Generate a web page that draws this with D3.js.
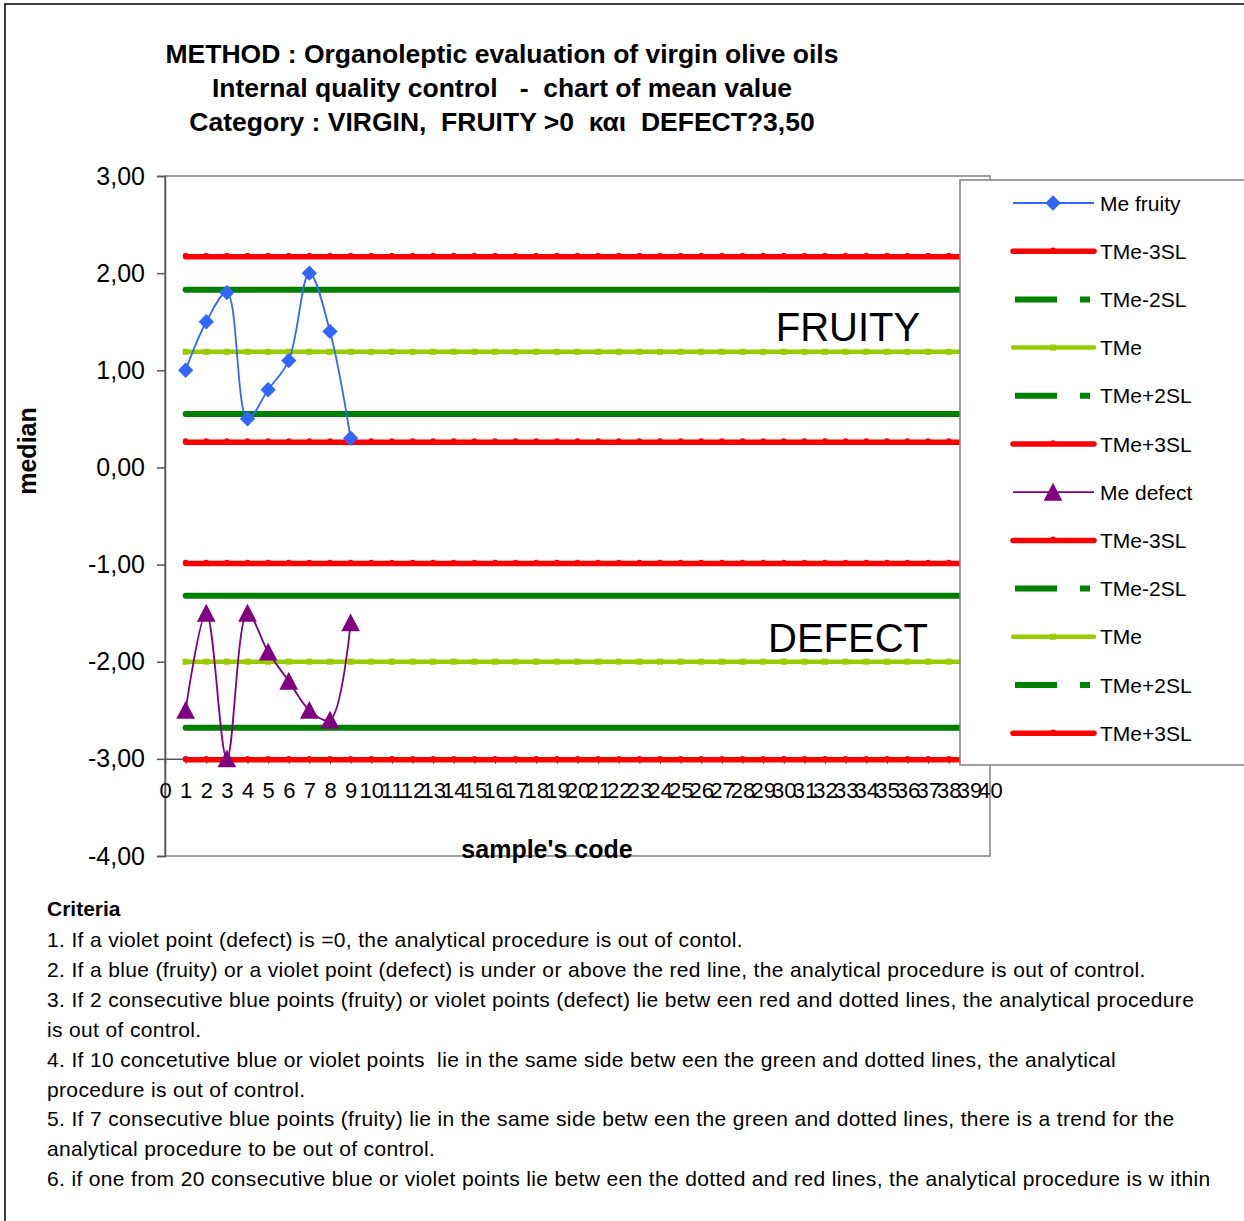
<!DOCTYPE html>
<html><head><meta charset="utf-8">
<script src="https://cdn.jsdelivr.net/npm/d3@7"></script>
<style>body{margin:0;background:#fff}svg{display:block}text{font-family:"Liberation Sans",Arial,sans-serif}</style>
</head><body>
<script>
const titleLines = ["METHOD : Organoleptic evaluation of virgin olive oils",
  "Internal quality control   -  chart of mean value",
  "Category : VIRGIN,  FRUITY >0  και  DEFECT?3,50"];
const sampleCodes = [1,2,3,4,5,6,7,8,9];
const meFruity = [1.0,1.5,1.8,0.5,0.8,1.1,2.0,1.4,0.3];
const meDefect = [-2.5,-1.5,-3.0,-1.5,-1.9,-2.2,-2.5,-2.6,-1.6];
const limitNames = ["TMe-3SL","TMe-2SL","TMe","TMe+2SL","TMe+3SL"];
const fruityLimits = [2.17,1.83,1.19,0.55,0.26];
const defectLimits = [-0.99,-1.32,-2.00,-2.68,-3.01];
const limitX = d3.range(1,41);
const yTicks = [3,2,1,0,-1,-2,-3,-4];
const yTickLabels = ["3,00","2,00","1,00","0,00","-1,00","-2,00","-3,00","-4,00"];
const xTicks = d3.range(0,41);
const legendLabels = ["Me fruity","TMe-3SL","TMe-2SL","TMe","TMe+2SL","TMe+3SL","Me defect","TMe-3SL","TMe-2SL","TMe","TMe+2SL","TMe+3SL"];
const criteria = [
 "1. If a violet point (defect) is =0, the analytical procedure is out of contol.",
 "2. If a blue (fruity) or a violet point (defect) is under or above the red line, the analytical procedure is out of control.",
 "3. If 2 consecutive blue points (fruity) or violet points (defect) lie betw een red and dotted lines, the analytical procedure",
 "is out of control.",
 "4. If 10 concetutive blue or violet points  lie in the same side betw een the green and dotted lines, the analytical",
 "procedure is out of control.",
 "5. If 7 consecutive blue points (fruity) lie in the same side betw een the green and dotted lines, there is a trend for the",
 "analytical procedure to be out of control.",
 "6. if one from 20 consecutive blue or violet points lie betw een the dotted and red lines, the analytical procedure is w ithin"];

const limitStyles = [
  {color:"#FF0000", w:5.5, marker:"dot"},
  {color:"#008000", w:6, marker:"none"},
  {color:"#99CC00", w:4.5, marker:"square"},
  {color:"#008000", w:6, marker:"none"},
  {color:"#FF0000", w:5.5, marker:"dot"}];

const W=1244,H=1221;
const svg=d3.select("body").append("svg").attr("width",W).attr("height",H);
svg.append("path").attr("d","M5,1221 V4 H1244").attr("fill","none").attr("stroke","#000").attr("stroke-width",1.5);

const L=165,R=990,T=176,B=856;
const x=d3.scaleLinear().domain([0,40]).range([L,R]);
const y=d3.scaleLinear().domain([-4,3]).range([B,T]);

svg.append("rect").attr("x",L).attr("y",T).attr("width",R-L).attr("height",B-T).attr("fill","none").attr("stroke","#808080").attr("stroke-width",1.5);

const yAxis=svg.append("g").attr("transform",`translate(${L},0)`)
  .call(d3.axisLeft(y).tickValues(yTicks).tickSize(8).tickPadding(12).tickFormat((d,i)=>yTickLabels[i]));
yAxis.select(".domain").attr("stroke","#555").attr("stroke-width",1.5);
yAxis.selectAll(".tick line").attr("stroke","#555").attr("stroke-width",1.5);
yAxis.selectAll("text").attr("font-size",25).attr("fill","#000").attr("font-family","Liberation Sans, Arial, sans-serif");

const xAxis=svg.append("g").attr("transform",`translate(0,${y(-3)})`)
  .call(d3.axisBottom(x).tickValues(xTicks).tickSize(5).tickPadding(19).tickFormat(d=>String(d)));
xAxis.select(".domain").attr("stroke","#555").attr("stroke-width",1.5);
xAxis.selectAll(".tick line").attr("stroke","#555");
xAxis.selectAll("text").attr("font-size",22).attr("fill","#000").attr("font-family","Liberation Sans Narrow, Arial Narrow, sans-serif");

const lineStraight=d3.line().x(d=>x(d[0])).y(d=>y(d[1]));
function drawLimit(v,st){
  const pts=limitX.map(k=>[k,v]);
  svg.append("path").attr("d",lineStraight(pts)).attr("fill","none").attr("stroke",st.color).attr("stroke-width",st.w).attr("stroke-linecap","round");
  if(st.marker==="dot"){
    svg.append("g").selectAll("circle").data(pts).join("circle").attr("cx",d=>x(d[0])).attr("cy",d=>y(d[1])-1).attr("r",2.8).attr("fill",st.color);
  } else if(st.marker==="square"){
    svg.append("g").selectAll("rect").data(pts).join("rect").attr("x",d=>x(d[0])-3).attr("y",d=>y(d[1])-3).attr("width",6).attr("height",6).attr("fill",st.color);
  }
}
fruityLimits.forEach((v,i)=>drawLimit(v,limitStyles[i]));
defectLimits.forEach((v,i)=>drawLimit(v,limitStyles[i]));

const smooth=d3.line().x(d=>x(d[0])).y(d=>y(d[1])).curve(d3.curveCatmullRom.alpha(0.5));
const fr=sampleCodes.map((c,i)=>[c,meFruity[i]]);
const df=sampleCodes.map((c,i)=>[c,meDefect[i]]);
svg.append("path").attr("d",smooth(fr)).attr("fill","none").attr("stroke","#3366FF").attr("stroke-width",1.8);
svg.append("g").selectAll("path").data(fr).join("path")
  .attr("d",d3.symbol(d3.symbolDiamond2,150)()).attr("transform",d=>`translate(${x(d[0])},${y(d[1])})`).attr("fill","#3366FF");
svg.append("path").attr("d",smooth(df)).attr("fill","none").attr("stroke","#800080").attr("stroke-width",1.8);
const tri=s=>`M0,${-s*0.55}L${s*0.55},${s*0.5}L${-s*0.55},${s*0.5}Z`;
svg.append("g").selectAll("path").data(df).join("path")
  .attr("d",tri(17)).attr("transform",d=>`translate(${x(d[0])},${y(d[1])})`).attr("fill","#800080");

svg.append("text").attr("x",848).attr("y",341).attr("text-anchor","middle").attr("font-size",40).text("FRUITY");
svg.append("text").attr("x",848).attr("y",652).attr("text-anchor","middle").attr("font-size",40).text("DEFECT");

svg.append("text").attr("transform","translate(36,451) rotate(-90)").attr("text-anchor","middle").attr("font-size",25).attr("font-weight","bold").text("median");
svg.append("text").attr("x",547).attr("y",858).attr("text-anchor","middle").attr("font-size",25).attr("font-weight","bold").text("sample's code");

titleLines.forEach((t,i)=>svg.append("text").attr("x",502).attr("y",63+i*34).attr("text-anchor","middle").attr("font-size",26.5).attr("font-weight","bold").style("white-space","pre").text(t));

const lg=svg.append("g");
lg.append("rect").attr("x",960).attr("y",180).attr("width",300).attr("height",585).attr("fill","#fff").attr("stroke","#808080").attr("stroke-width",1.5);
const legendStyles=[{kind:"fruity"}].concat(limitStyles,[{kind:"defect"}],limitStyles);
legendLabels.forEach((lab,i)=>{
  const cy=203+i*48.2, st=legendStyles[i];
  const g=lg.append("g");
  if(st.kind==="fruity"){
    g.append("line").attr("x1",1013).attr("x2",1094).attr("y1",cy).attr("y2",cy).attr("stroke","#3366FF").attr("stroke-width",1.8);
    g.append("path").attr("d",d3.symbol(d3.symbolDiamond2,150)()).attr("transform",`translate(1053,${cy})`).attr("fill","#3366FF");
  } else if(st.kind==="defect"){
    g.append("line").attr("x1",1013).attr("x2",1094).attr("y1",cy).attr("y2",cy).attr("stroke","#800080").attr("stroke-width",1.8);
    g.append("path").attr("d",tri(17)).attr("transform",`translate(1053,${cy})`).attr("fill","#800080");
  } else if(st.color==="#008000"){
    g.append("line").attr("x1",1015).attr("x2",1090).attr("y1",cy).attr("y2",cy).attr("stroke",st.color).attr("stroke-width",st.w).attr("stroke-dasharray","42,23");
  } else {
    g.append("line").attr("x1",1013).attr("x2",1094).attr("y1",cy).attr("y2",cy).attr("stroke",st.color).attr("stroke-width",st.w).attr("stroke-linecap","round");
    if(st.marker==="dot") g.append("circle").attr("cx",1053).attr("cy",cy-1).attr("r",2.8).attr("fill",st.color);
    if(st.marker==="square") g.append("rect").attr("x",1050).attr("y",cy-3).attr("width",6).attr("height",6).attr("fill",st.color);
  }
  g.append("text").attr("x",1100).attr("y",cy+7.5).attr("font-size",21).text(lab);
});

svg.append("text").attr("x",47).attr("y",916).attr("font-size",21).attr("font-weight","bold").text("Criteria");
criteria.forEach((t,i)=>svg.append("text").attr("x",47).attr("y",947+i*29.9).attr("font-size",21).attr("letter-spacing",0.35).style("white-space","pre").text(t));
</script>
</body></html>
